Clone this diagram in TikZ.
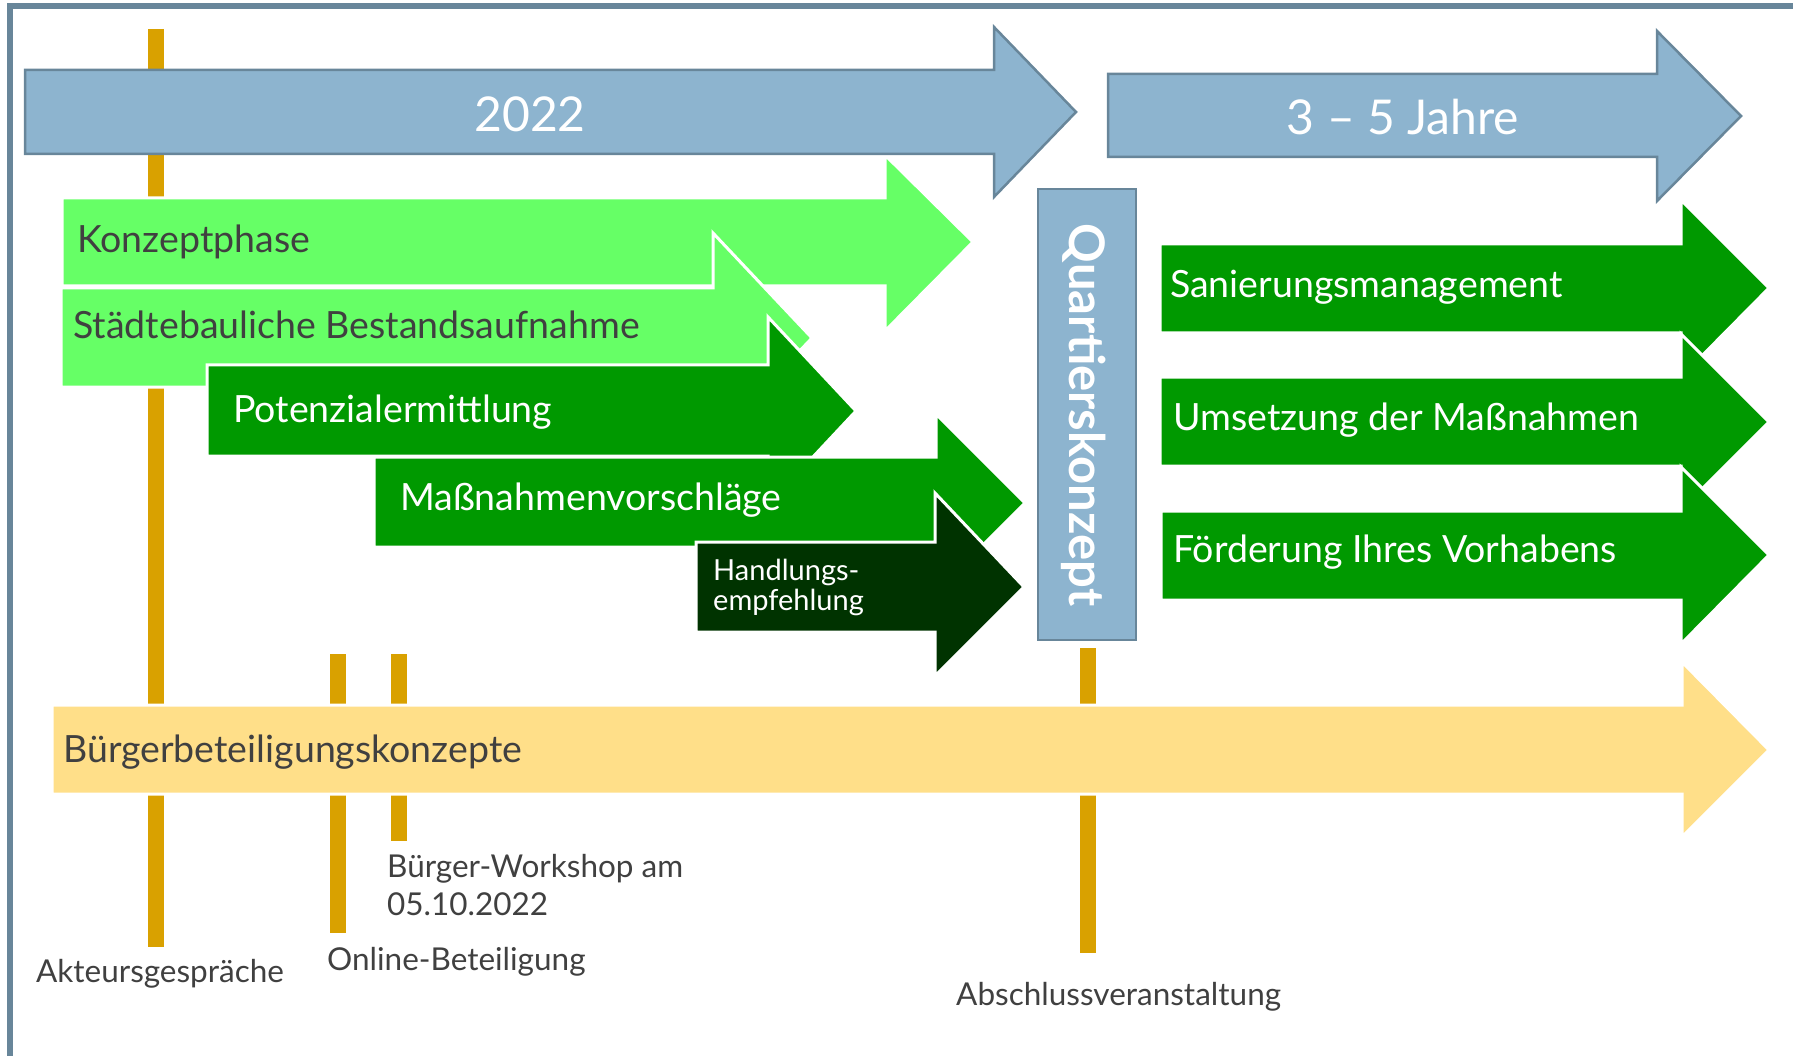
\documentclass[tikz,border=0pt]{standalone}
\usepackage{fontspec}
\setmainfont{Lato}
\usepackage{tikz}
\definecolor{frameblue}{HTML}{68869A}
\definecolor{yearblue}{HTML}{8DB4CF}
\definecolor{lightgreen}{HTML}{66FF66}
\definecolor{midgreen}{HTML}{009900}
\definecolor{darkgreen}{HTML}{003300}
\definecolor{sand}{HTML}{FFDF89}
\definecolor{ochre}{HTML}{D9A100}
\definecolor{txtgray}{HTML}{404040}
\tikzstyle{year_arrow} = [fill=yearblue, draw=frameblue, line width=2.5pt]
\tikzstyle{light_arrow} = [fill=lightgreen, draw=white, line width=3pt]
\tikzstyle{mid_arrow} = [fill=midgreen, draw=white, line width=3pt]
\tikzstyle{dark_arrow} = [fill=darkgreen, draw=white, line width=3pt]
\tikzstyle{part_arrow} = [fill=sand, draw=white, line width=3pt]
\tikzstyle{bar} = [draw=ochre, line width=16pt]
\tikzstyle{year_lbl} = [text=white, inner sep=0, anchor=base, font=\fontsize{48}{50}\selectfont]
\tikzstyle{phase_dark} = [text=txtgray, inner sep=0, anchor=base west, font=\fontsize{37.5}{40}\selectfont]
\tikzstyle{phase_white} = [text=white, inner sep=0, anchor=base west, font=\fontsize{37.5}{40}\selectfont]
\tikzstyle{small_white} = [text=white, inner sep=0, anchor=base west, font=\fontsize{29}{30}\selectfont]
\tikzstyle{event} = [text=txtgray, inner sep=0, anchor=base west, font=\fontsize{31.5}{33}\selectfont]

\begin{document}
\begin{tikzpicture}[x=1pt, y=-1pt]
\useasboundingbox (0,0) rectangle (1793,1056);
\clip (0,0) rectangle (1793,1056);

% frame
\draw [frameblue, line width=5.5pt] (10,6) rectangle (1900,1200);

% markers
\draw [bar] (156,29) -- (156,947);
\draw [bar] (338,654) -- (338,933);
\draw [bar] (399,654) -- (399,841);
\draw [bar] (1088,648) -- (1088,953);

% phases 2022
\draw [light_arrow] (62,198) -- (885,198) -- (885,155) -- (973,242) -- (885,331) -- (885,286) -- (62,286) -- cycle;
\node [phase_dark] (konzept) at (77,253) {Konzeptphase};

\draw [light_arrow] (61,288) -- (713,288) -- (713,233) -- (812,338) -- (713,442) -- (713,387) -- (61,387) -- cycle;
\node [phase_dark] (bestand) at (73,339) {Städtebauliche Bestandsaufnahme};

\draw [mid_arrow] (207,365) -- (768,365) -- (768,317) -- (856,411) -- (768,505) -- (768,456) -- (207,456) -- cycle;
\node [phase_white] (potenzial) at (233,422) {Potenzialermittlung};

\draw [mid_arrow] (374,457) -- (936,457) -- (936,414) -- (1025,503) -- (936,592) -- (936,547) -- (374,547) -- cycle;
\node [phase_white] (vorschlag) at (400,510) {Maßnahmenvorschläge};

\draw [dark_arrow] (696,542) -- (935,542) -- (935,493) -- (1024,587) -- (935,676) -- (935,632) -- (696,632) -- cycle;
\node [small_white] (handlung) at (713,580) {Handlungs-};
\node [small_white] (empfehlung) at (713,610) {empfehlung};

% years
\draw [year_arrow] (25,70) -- (994,70) -- (994,27) -- (1076,112) -- (994,197) -- (994,154) -- (25,154) -- cycle;
\node [year_lbl] (y2022) at (530,132) {2022};
\draw [year_arrow] (1108,74) -- (1657,74) -- (1657,31) -- (1741,116) -- (1657,201) -- (1657,157) -- (1108,157) -- cycle;
\node [year_lbl] (yrest) at (1403,135) {3 – 5 Jahre};

% concept
\draw [year_arrow] (1038,189) rectangle (1136,640);
\node [text=white, inner sep=0, anchor=base, rotate=-90, font=\fontsize{49}{52}\selectfont\bfseries] (quartier) at (1069,415) {Quartierskonzept};

% 3-5 years
\draw [mid_arrow] (1160,244) -- (1681,244) -- (1681,200) -- (1769,288) -- (1681,377) -- (1681,333) -- (1160,333) -- cycle;
\node [phase_white] (sanierung) at (1170,298) {Sanierungsmanagement};

\draw [mid_arrow] (1160,377) -- (1681,377) -- (1681,334) -- (1769,422) -- (1681,510) -- (1681,466) -- (1160,466) -- cycle;
\node [phase_white] (umsetzung) at (1173,430) {Umsetzung der Maßnahmen};

\draw [mid_arrow] (1161,511) -- (1681,511) -- (1681,467) -- (1769,555) -- (1681,644) -- (1681,600) -- (1161,600) -- cycle;
\node [phase_white] (foerderung) at (1173,562) {Förderung Ihres Vorhabens};

% participation
\draw [part_arrow] (52,705) -- (1682,705) -- (1682,662) -- (1769,750) -- (1682,837) -- (1682,794) -- (52,794) -- cycle;
\node [phase_dark] (beteiligung) at (63,762) {Bürgerbeteiligungskonzepte};

\node [event] (akteure) at (36,982) {Akteursgespräche};
\node [event] (online) at (327,970) {Online-Beteiligung};
\node [event] (workshop) at (387,877) {Bürger-Workshop am};
\node [event] (datum) at (387,915) {05.10.2022};
\node [event] (abschluss) at (956,1005) {Abschlussveranstaltung};
\end{tikzpicture}
\end{document}
